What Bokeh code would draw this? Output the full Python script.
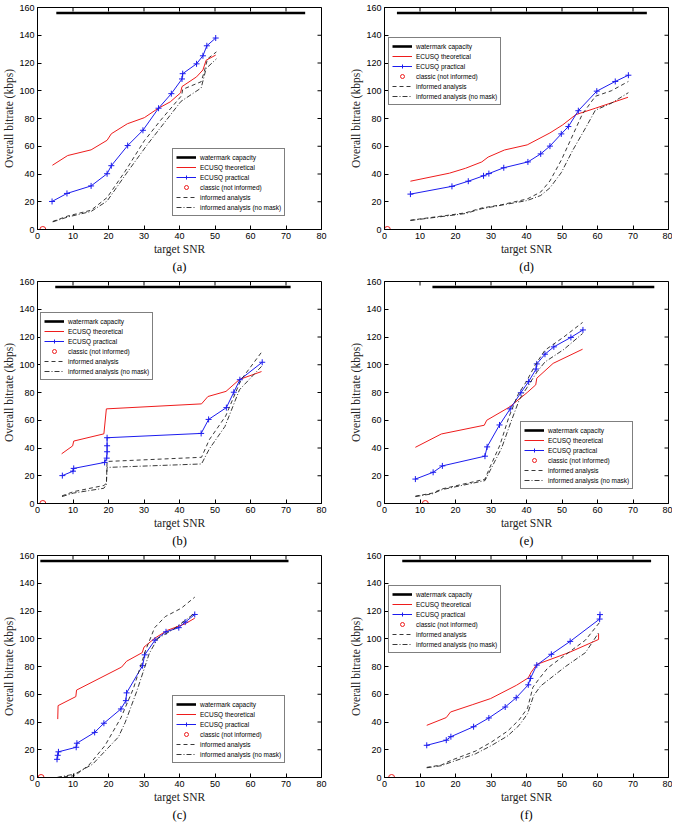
from bokeh.plotting import figure
from bokeh.models import (Range1d, FixedTicker, Legend, LegendItem, Title)
from bokeh.layouts import column, row
from bokeh.embed import file_html
from bokeh.resources import INLINE

# ---------------- data ----------------
CAPACITY = 156
X_TICKS = [0, 10, 20, 30, 40, 50, 60, 70, 80]
Y_TICKS = [0, 20, 40, 60, 80, 100, 120, 140, 160]
LABELS = ["watermark capacity", "ECUSQ theoretical", "ECUSQ practical",
          "classic (not informed)", "informed analysis", "informed analysis (no mask)"]

# panel (a)
a_cap_x = [5.3, 75.4]
a_theo_x = [4.2, 8.5, 15.1, 19.6, 20.8, 25.3, 30.1, 33.8, 37.4, 40.3, 40.7, 44.8, 46.6, 47.5, 50.2]
a_theo_y = [46.3, 53.3, 57.4, 64.3, 69.0, 76.2, 80.6, 87.0, 92.0, 98.5, 103.0, 110.0, 115.0, 122.0, 125.7]
a_prac_x = [4.1, 8.3, 15.1, 19.6, 20.8, 25.4, 29.7, 34.1, 37.7, 40.7, 40.9, 44.8, 46.6, 47.7, 50.2]
a_prac_y = [20.2, 26.0, 31.4, 40.2, 46.0, 60.5, 71.5, 87.4, 97.9, 108.5, 112.3, 119.4, 125.2, 132.4, 138.0]
a_classic_x = [1.5]
a_inf_x = [4.3, 8.5, 15.1, 19.6, 24.7, 30.1, 34.7, 40.6, 40.9, 46.1, 47.0, 47.9, 50.4]
a_inf_y = [5.8, 9.7, 13.9, 23.0, 42.0, 64.0, 78.8, 96.5, 101.0, 106.5, 114.0, 123.0, 128.0]
a_nomask_x = [4.3, 8.5, 15.1, 19.6, 25.1, 31.0, 35.6, 40.4, 46.1, 47.5, 50.4]
a_nomask_y = [5.5, 9.0, 13.0, 20.5, 40.6, 61.4, 76.5, 92.3, 102.0, 116.0, 123.0]

# panel (d)
d_cap_x = [3.5, 73.9]
d_theo_x = [7.3, 18.3, 22.8, 27.4, 29.2, 33.8, 40.2, 46.6, 50.2, 53.9, 59.4, 68.6]
d_theo_y = [34.8, 40.6, 44.1, 48.7, 52.2, 57.3, 61.0, 69.6, 75.4, 82.8, 87.4, 95.3]
d_prac_x = [7.3, 19.0, 23.6, 27.9, 29.4, 33.6, 40.4, 44.0, 46.6, 49.8, 51.8, 54.6, 59.8, 65.0, 68.7]
d_prac_y = [25.5, 31.1, 34.8, 38.7, 40.3, 44.5, 48.7, 54.5, 60.1, 68.9, 74.2, 85.6, 99.7, 106.7, 111.2]
d_classic_x = [0.8]
d_inf_x = [7.3, 18.3, 22.8, 27.4, 32.9, 40.2, 44.0, 46.6, 49.8, 52.5, 55.7, 59.4, 63.9, 68.7]
d_inf_y = [6.7, 10.4, 12.0, 15.5, 17.8, 22.0, 27.0, 35.0, 50.0, 65.0, 83.0, 96.0, 100.0, 106.7]
d_nomask_x = [7.3, 18.3, 22.8, 27.4, 32.9, 40.2, 44.0, 46.6, 49.8, 53.0, 56.6, 59.4, 63.9, 68.7]
d_nomask_y = [6.5, 10.0, 11.5, 15.0, 17.5, 20.9, 24.5, 30.0, 41.0, 57.0, 73.0, 86.0, 91.0, 98.6]

# panel (b)
b_cap_x = [5.0, 71.3]
b_theo_x = [6.8, 9.9, 10.2, 18.7, 19.4, 46.2, 48.0, 53.1, 56.9, 63.1]
b_theo_y = [35.8, 41.5, 45.0, 50.2, 68.2, 71.8, 77.1, 80.8, 89.4, 95.1]
b_prac_x = [7.0, 10.0, 10.2, 18.9, 19.5, 19.6, 19.6, 19.6, 46.1, 48.2, 53.2, 55.3, 57.0, 63.3]
b_prac_y = [20.1, 23.3, 25.3, 29.6, 32.7, 37.3, 41.6, 47.4, 50.5, 60.6, 69.1, 80.2, 89.2, 101.8]
b_classic_x = [1.5]
b_inf_x = [6.9, 10.1, 18.7, 19.4, 19.6, 46.2, 48.4, 53.0, 57.3, 63.1]
b_inf_y = [5.5, 8.5, 13.0, 14.5, 30.3, 33.3, 46.0, 63.0, 89.0, 109.0]
b_nomask_x = [6.9, 10.1, 18.7, 19.4, 19.6, 46.2, 48.4, 52.8, 56.9, 63.1]
b_nomask_y = [5.0, 7.5, 11.0, 13.5, 26.0, 28.5, 39.3, 55.5, 82.0, 98.8]

# panel (e)
e_cap_x = [13.5, 76.0]
e_theo_x = [8.7, 16.0, 28.1, 28.8, 35.2, 40.2, 42.6, 42.9, 47.5, 55.8]
e_theo_y = [40.5, 50.1, 56.4, 60.0, 69.5, 80.0, 85.5, 90.3, 101.0, 111.2]
e_prac_x = [8.7, 13.7, 16.3, 28.3, 28.9, 32.4, 35.4, 38.4, 40.6, 42.7, 42.9, 45.2, 47.7, 52.5, 55.9]
e_prac_y = [17.6, 22.5, 27.1, 34.1, 40.8, 56.6, 68.2, 79.8, 87.9, 96.9, 100.6, 107.6, 112.9, 119.7, 125.1]
e_classic_x = [11.5]
e_inf_x = [8.7, 13.5, 16.2, 28.3, 29.5, 32.5, 35.0, 37.5, 40.0, 42.5, 45.2, 50.5, 55.8]
e_inf_y = [5.3, 7.5, 10.5, 17.5, 25.0, 42.0, 62.0, 78.0, 88.0, 100.0, 110.5, 120.0, 130.5]
e_nomask_x = [8.7, 13.5, 16.2, 28.3, 29.8, 33.0, 35.5, 38.0, 40.5, 43.0, 45.2, 50.5, 55.8]
e_nomask_y = [5.0, 7.0, 10.0, 16.5, 24.0, 40.0, 58.0, 75.0, 85.0, 95.0, 102.0, 111.0, 122.5]

# panel (c)
c_cap_x = [0.8, 70.7]
c_theo_x = [5.7, 5.8, 10.8, 11.0, 23.7, 25.1, 29.5, 30.0, 33.1, 36.6, 41.6, 44.3]
c_theo_y = [42.1, 51.8, 58.3, 63.0, 79.6, 83.8, 90.0, 94.0, 100.5, 106.1, 110.8, 114.8]
c_prac_x = [5.5, 5.7, 5.9, 10.9, 11.1, 16.1, 18.7, 23.5, 24.9, 25.1, 29.6, 30.2, 33.1, 36.2, 39.8, 41.6, 44.3]
c_prac_y = [13.1, 16.0, 18.5, 21.8, 24.7, 32.5, 39.1, 49.4, 55.4, 61.0, 80.6, 88.4, 99.0, 105.0, 108.0, 112.0, 117.5]
c_classic_x = [1.0]
c_inf_x = [5.5, 10.5, 14.5, 19.0, 23.5, 27.0, 30.5, 33.0, 36.0, 40.5, 44.3]
c_inf_y = [0.0, 1.3, 9.0, 23.0, 43.0, 64.0, 92.0, 108.0, 116.0, 122.0, 130.0]
c_nomask_x = [5.5, 10.5, 15.5, 22.8, 24.7, 27.9, 31.5, 33.8, 38.4, 44.3]
c_nomask_y = [0.0, 2.5, 9.5, 29.2, 39.7, 61.7, 89.5, 100.0, 107.0, 118.5]

# panel (f)
f_cap_x = [5.0, 75.1]
f_theo_x = [11.9, 17.4, 18.6, 24.7, 29.9, 37.2, 40.5, 41.3, 42.9, 51.9, 60.3, 60.3]
f_theo_y = [37.6, 43.2, 47.2, 52.4, 56.9, 66.5, 71.8, 75.8, 81.5, 90.0, 99.5, 103.6]
f_prac_x = [11.9, 17.4, 18.7, 25.1, 29.4, 34.0, 37.1, 40.5, 41.1, 42.9, 47.0, 52.3, 60.6, 60.7]
f_prac_y = [23.2, 26.9, 29.4, 36.6, 42.9, 50.8, 57.5, 66.8, 71.4, 81.0, 88.8, 98.1, 114.2, 117.4]
f_classic_x = [2.0]
f_inf_x = [11.9, 16.0, 18.7, 25.6, 30.1, 34.7, 37.9, 40.3, 41.8, 43.5, 46.0, 51.0, 56.6, 60.5]
f_inf_y = [7.3, 9.0, 12.3, 19.0, 25.5, 33.5, 41.5, 50.0, 65.0, 71.0, 79.0, 88.5, 99.0, 111.5]
f_nomask_x = [11.9, 16.0, 18.7, 25.6, 30.1, 34.7, 37.9, 40.3, 42.0, 44.0, 51.0, 56.6, 60.5]
f_nomask_y = [7.0, 8.5, 11.0, 17.0, 23.0, 30.0, 37.5, 46.0, 59.0, 66.0, 80.0, 90.0, 105.0]

# ---------------- styling / layout ----------------
FW, FH = 284, 222
TICK_PX = 4
SANS = "Liberation Sans"
SERIF = "Liberation Serif"
RED = "#ee1c1c"
BLUE = "#1c1cee"
X_MIN, X_MAX = X_TICKS[0], X_TICKS[-1]
Y_MIN, Y_MAX = Y_TICKS[0], Y_TICKS[-1]
DX_TICK = TICK_PX * (X_MAX - X_MIN) / FW
DY_TICK = TICK_PX * (Y_MAX - Y_MIN) / FH


def make_panel(tag, cap_x, theo_x, theo_y, prac_x, prac_y, classic_x,
               inf_x, inf_y, nomask_x, nomask_y, legend_loc, left_border, right_border):
    p = figure(frame_width=FW, frame_height=FH, output_backend="svg",
               toolbar_location=None, x_range=Range1d(X_MIN, X_MAX), y_range=Range1d(Y_MIN, Y_MAX),
               min_border_left=left_border, min_border_right=right_border,
               min_border_top=7, min_border_bottom=0, background_fill_color="white",
               border_fill_color="white")
    p.xgrid.visible = False
    p.ygrid.visible = False
    p.outline_line_color = "black"
    p.outline_line_width = 1

    for ax, ticks in ((p.xaxis[0], X_TICKS), (p.yaxis[0], Y_TICKS)):
        ax.ticker = FixedTicker(ticks=ticks)
        ax.major_tick_in = TICK_PX
        ax.major_tick_out = 0
        ax.minor_tick_line_color = None
        ax.axis_line_color = "black"
        ax.major_label_text_font = SANS
        ax.major_label_text_font_size = "9px"
        ax.major_label_text_color = "black"
        ax.major_label_standoff = 3
        ax.axis_label_text_font = SERIF
        ax.axis_label_text_font_style = "normal"
        ax.axis_label_text_font_size = "11.5px"
        ax.axis_label_text_color = "#222222"
        ax.axis_label_standoff = 1
    p.xaxis.axis_label = "target SNR"
    p.yaxis.axis_label = "Overall bitrate (kbps)"

    # box ticks on the top and right edges
    p.segment(x0=X_TICKS, y0=[Y_MAX] * len(X_TICKS), x1=X_TICKS,
              y1=[Y_MAX - DY_TICK] * len(X_TICKS), line_color="black", line_width=1)
    p.segment(x0=[X_MAX] * len(Y_TICKS), y0=Y_TICKS, x1=[X_MAX - DX_TICK] * len(Y_TICKS),
              y1=Y_TICKS, line_color="black", line_width=1)

    cap = p.line(cap_x, [CAPACITY] * len(cap_x), line_color="black", line_width=2.6)
    r_theo = p.line(theo_x, theo_y, line_color=RED, line_width=1)
    r_prac = p.line(prac_x, prac_y, line_color=BLUE, line_width=1)
    r_prac_m = p.scatter(prac_x, prac_y, marker="cross", size=6, line_color=BLUE, line_width=1)
    r_cls = p.scatter(classic_x, [0] * len(classic_x), marker="circle", size=6,
                      line_color=RED, fill_color=None, line_width=1)
    r_inf = p.line(inf_x, inf_y, line_color="#222222", line_width=0.9, line_dash="4 3")
    r_nm = p.line(nomask_x, nomask_y, line_color="#222222", line_width=0.9, line_dash="5 2 1 2")

    items = [LegendItem(label=LABELS[0], renderers=[cap]),
             LegendItem(label=LABELS[1], renderers=[r_theo]),
             LegendItem(label=LABELS[2], renderers=[r_prac, r_prac_m]),
             LegendItem(label=LABELS[3], renderers=[r_cls]),
             LegendItem(label=LABELS[4], renderers=[r_inf]),
             LegendItem(label=LABELS[5], renderers=[r_nm])]
    leg = Legend(items=items, location=legend_loc, border_line_color="black",
                 border_line_width=1, background_fill_color="white", background_fill_alpha=1,
                 label_text_font=SANS, label_text_font_size="6.5px", label_text_color="black",
                 padding=3, spacing=0, margin=0, label_height=10, glyph_height=10,
                 glyph_width=20, label_standoff=4)
    p.add_layout(leg)

    t = Title(text=tag, align="center", text_font=SERIF, text_font_size="12.5px",
              text_font_style="normal", text_color="black", standoff=1, offset=0)
    p.add_layout(t, "below")
    return p


LB_L, RB_L = 34, 26
LB_R, RB_R = 34, 4
BR = (135, 13)
TL = (4, 124)

pa = make_panel("(a)", a_cap_x, a_theo_x, a_theo_y, a_prac_x, a_prac_y, a_classic_x,
                a_inf_x, a_inf_y, a_nomask_x, a_nomask_y, BR, LB_L, RB_L)
pd = make_panel("(d)", d_cap_x, d_theo_x, d_theo_y, d_prac_x, d_prac_y, d_classic_x,
                d_inf_x, d_inf_y, d_nomask_x, d_nomask_y, TL, LB_R, RB_R)
pb = make_panel("(b)", b_cap_x, b_theo_x, b_theo_y, b_prac_x, b_prac_y, b_classic_x,
                b_inf_x, b_inf_y, b_nomask_x, b_nomask_y, (3, 123), LB_L, RB_L)
pe = make_panel("(e)", e_cap_x, e_theo_x, e_theo_y, e_prac_x, e_prac_y, e_classic_x,
                e_inf_x, e_inf_y, e_nomask_x, e_nomask_y, (136, 14), LB_R, RB_R)
pc = make_panel("(c)", c_cap_x, c_theo_x, c_theo_y, c_prac_x, c_prac_y, c_classic_x,
                c_inf_x, c_inf_y, c_nomask_x, c_nomask_y, (135, 14), LB_L, RB_L)
pf = make_panel("(f)", f_cap_x, f_theo_x, f_theo_y, f_prac_x, f_prac_y, f_classic_x,
                f_inf_x, f_inf_y, f_nomask_x, f_nomask_y, TL, LB_R, RB_R)

layout = column(row(pa, pd), row(pb, pe), row(pc, pf))
open("out.html", "w").write(file_html(layout, INLINE))
